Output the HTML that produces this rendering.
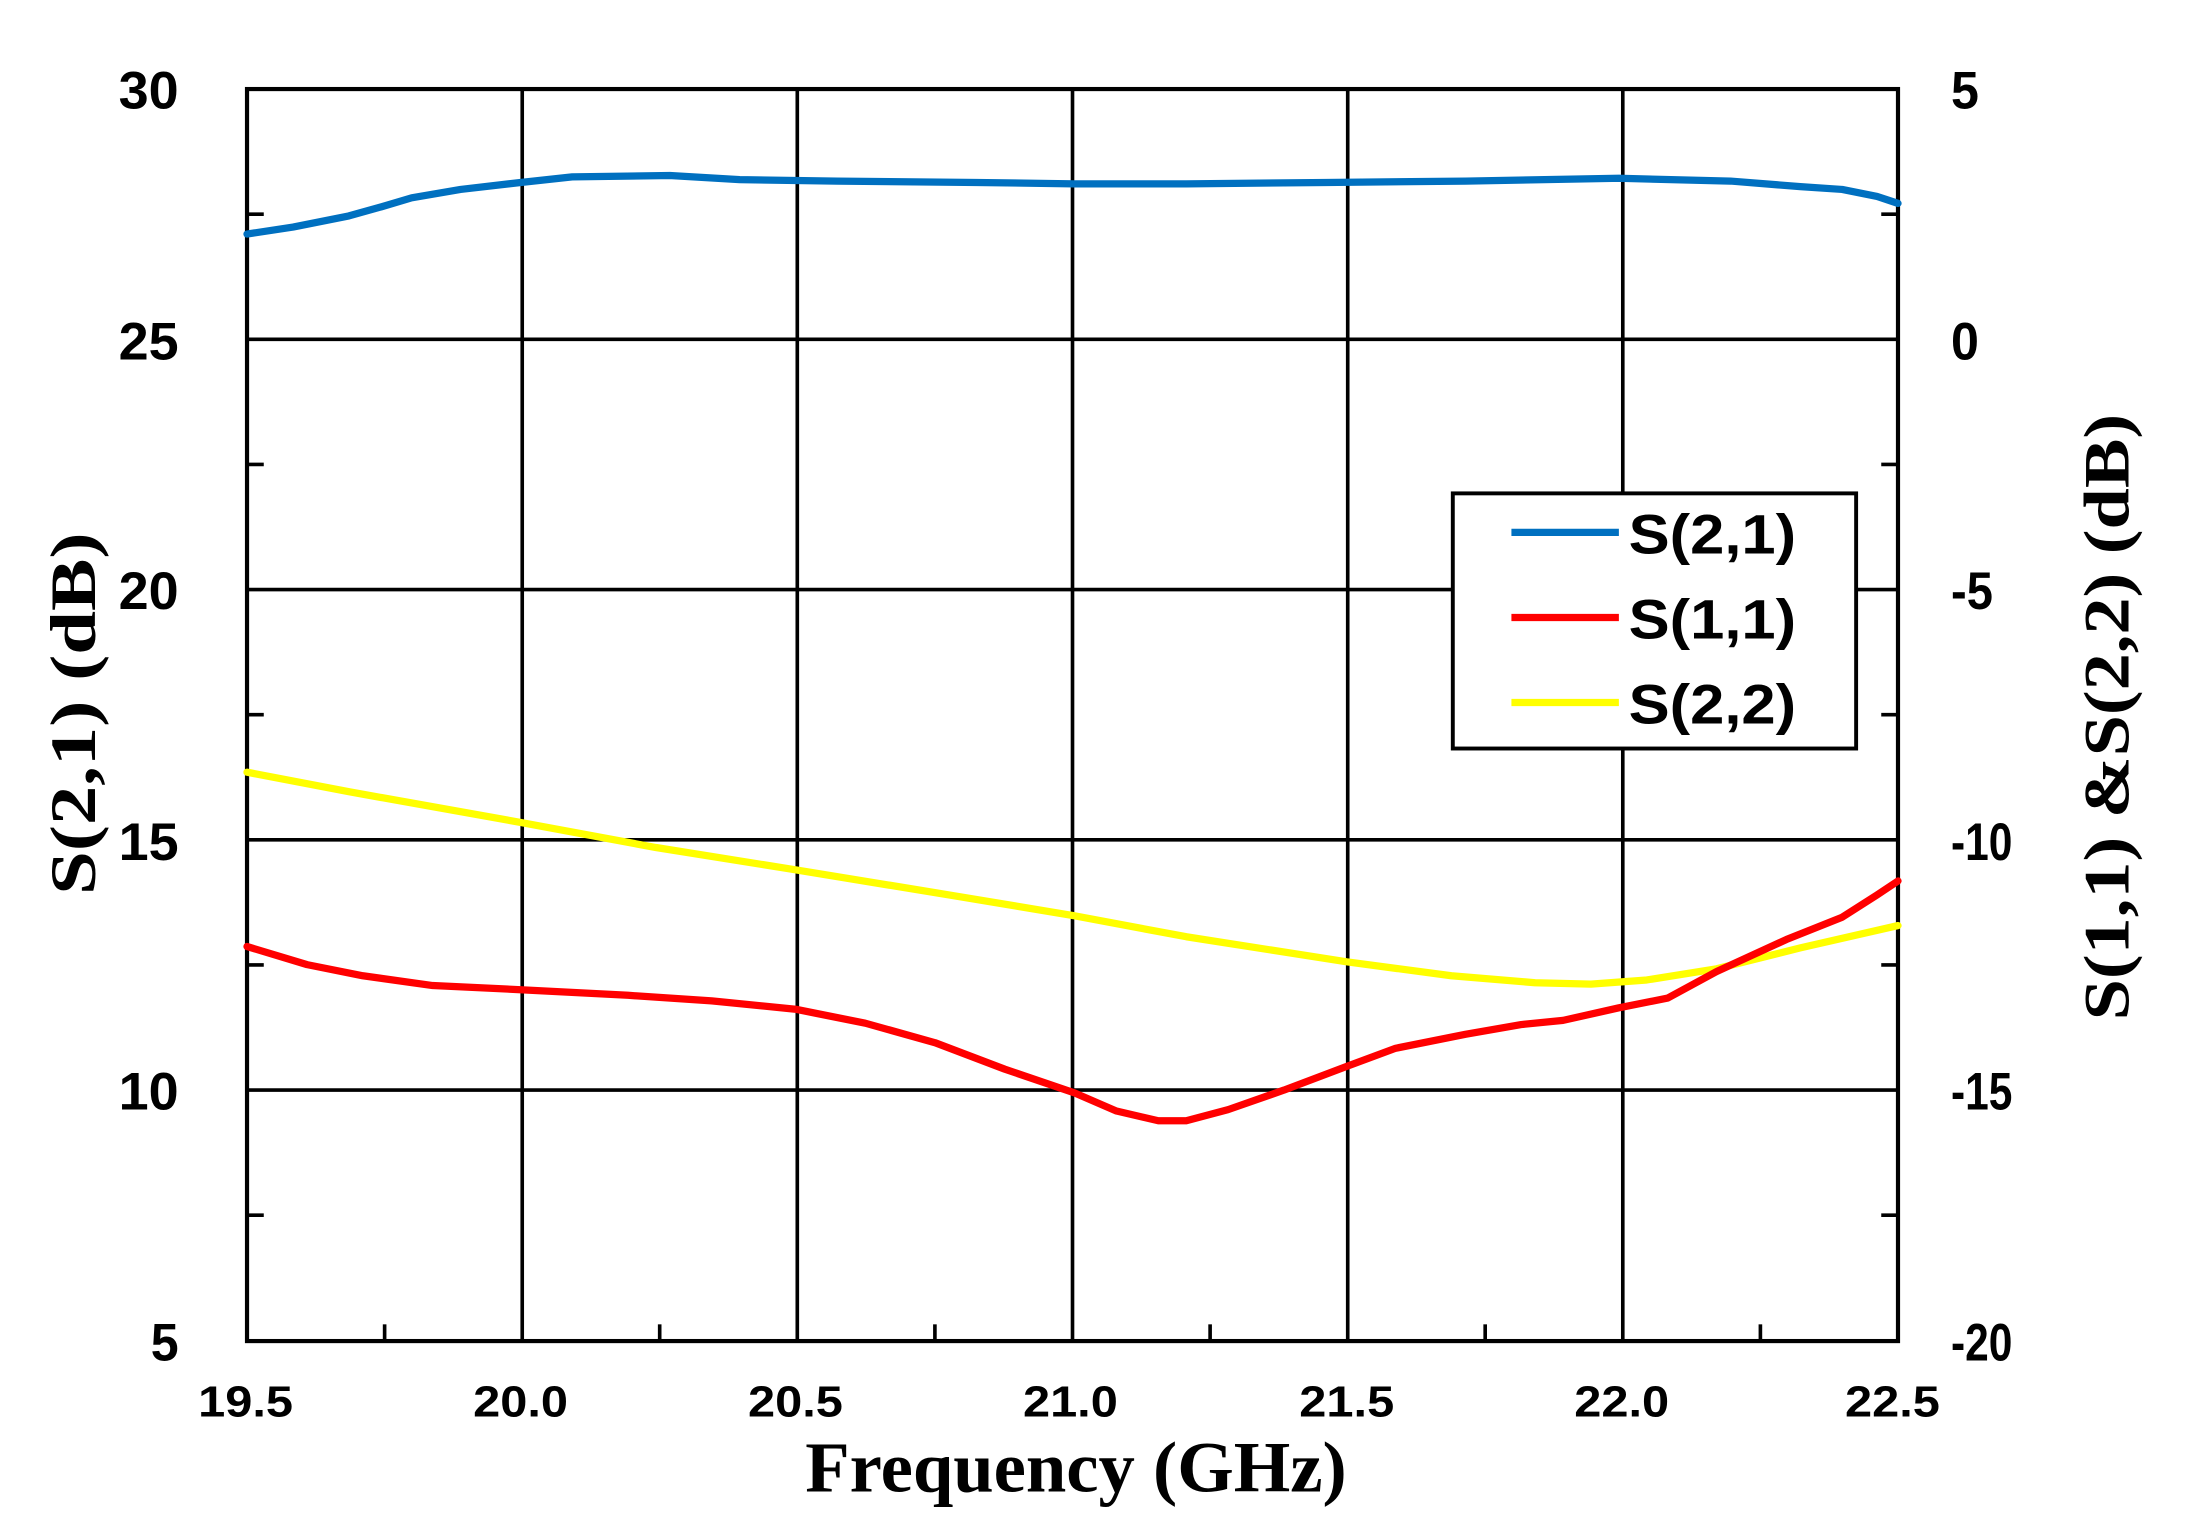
<!DOCTYPE html>
<html><head><meta charset="utf-8"><style>html,body{margin:0;padding:0;background:#fff}svg{display:block}</style></head>
<body>
<svg width="2188" height="1531" viewBox="0 -1.87 1567.8 1098.1" preserveAspectRatio="none" xmlns="http://www.w3.org/2000/svg">
<rect x="0" y="-2" width="1568" height="1100" fill="#fff"/>
<g stroke="#000" stroke-width="2.6">
<line x1="177" y1="241.5" x2="1360" y2="241.5"/>
<line x1="177" y1="421" x2="1360" y2="421"/>
<line x1="177" y1="600.5" x2="1360" y2="600.5"/>
<line x1="177" y1="780" x2="1360" y2="780"/>
<line x1="374.2" y1="62" x2="374.2" y2="960"/>
<line x1="571.3" y1="62" x2="571.3" y2="960"/>
<line x1="768.5" y1="62" x2="768.5" y2="960"/>
<line x1="965.7" y1="62" x2="965.7" y2="960"/>
<line x1="1162.8" y1="62" x2="1162.8" y2="960"/>
<line x1="177" y1="151.75" x2="189" y2="151.75"/><line x1="177" y1="331.25" x2="189" y2="331.25"/><line x1="177" y1="510.75" x2="189" y2="510.75"/><line x1="177" y1="690.25" x2="189" y2="690.25"/><line x1="177" y1="869.75" x2="189" y2="869.75"/>
<line x1="1348" y1="151.75" x2="1360" y2="151.75"/><line x1="1348" y1="331.25" x2="1360" y2="331.25"/><line x1="1348" y1="510.75" x2="1360" y2="510.75"/><line x1="1348" y1="690.25" x2="1360" y2="690.25"/><line x1="1348" y1="869.75" x2="1360" y2="869.75"/>
<line x1="275.6" y1="948" x2="275.6" y2="960"/><line x1="472.7" y1="948" x2="472.7" y2="960"/><line x1="669.9" y1="948" x2="669.9" y2="960"/><line x1="867.1" y1="948" x2="867.1" y2="960"/><line x1="1064.2" y1="948" x2="1064.2" y2="960"/><line x1="1261.4" y1="948" x2="1261.4" y2="960"/>
</g>
<rect x="177" y="62" width="1183" height="898" fill="none" stroke="#000" stroke-width="3"/>
<g fill="none" stroke-width="5.2" stroke-linejoin="round" stroke-linecap="round">
<polyline stroke="#0070c0" points="177,166 210,161 250,153 275,146 295,140 330,134 373,129 410,125 480,124 530,127 600,128 700,129 770,130 850,130 950,129 1050,128 1160,126 1240,128 1290,132 1320,134 1345,139 1360,144"/>
<polyline stroke="#ffff00" points="177,552 250,566 373,588 470,606 570,622 680,640 770,655 850,670 965,688 1040,698 1100,703 1140,704 1180,701 1230,693 1290,678 1360,662"/>
<polyline stroke="#ff0000" points="177,677 220,690 260,698 310,705 373,708 450,712 510,716 570,722 620,732 670,746 720,765 770,782 800,795 830,802 850,802 880,794 920,780 965,763 1000,750 1050,740 1090,733 1120,730 1160,721 1195,714 1230,695 1280,672 1320,656 1345,640 1360,630"/>
</g>
<rect x="1041" y="352" width="289" height="183" fill="#fff" stroke="#000" stroke-width="2.8"/>
<g stroke-width="5.2"><line x1="1083" y1="380" x2="1160" y2="380" stroke="#0070c0"/><line x1="1083" y1="441" x2="1160" y2="441" stroke="#ff0000"/><line x1="1083" y1="502" x2="1160" y2="502" stroke="#ffff00"/></g>
<g font-family="Liberation Sans, sans-serif" font-weight="bold" font-size="40" fill="#000" lengthAdjust="spacingAndGlyphs">
<text x="1167" y="395" textLength="120" lengthAdjust="spacingAndGlyphs">S(2,1)</text><text x="1167" y="456" textLength="120" lengthAdjust="spacingAndGlyphs">S(1,1)</text><text x="1167" y="517" textLength="120" lengthAdjust="spacingAndGlyphs">S(2,2)</text>
</g>
<g font-family="Liberation Sans, sans-serif" font-weight="bold" font-size="38" fill="#000">
<text x="85" y="76" textLength="43" lengthAdjust="spacingAndGlyphs">30</text>
<text x="85" y="256" textLength="43" lengthAdjust="spacingAndGlyphs">25</text>
<text x="85" y="435" textLength="43" lengthAdjust="spacingAndGlyphs">20</text>
<text x="85" y="615" textLength="43" lengthAdjust="spacingAndGlyphs">15</text>
<text x="85" y="794" textLength="43" lengthAdjust="spacingAndGlyphs">10</text>
<text x="108" y="974" textLength="20" lengthAdjust="spacingAndGlyphs">5</text>
<text x="1398" y="76" textLength="20" lengthAdjust="spacingAndGlyphs">5</text>
<text x="1398" y="256" textLength="20" lengthAdjust="spacingAndGlyphs">0</text>
<text x="1398" y="435" textLength="30" lengthAdjust="spacingAndGlyphs">-5</text>
<text x="1398" y="615" textLength="44" lengthAdjust="spacingAndGlyphs">-10</text>
<text x="1398" y="794" textLength="44" lengthAdjust="spacingAndGlyphs">-15</text>
<text x="1398" y="974" textLength="44" lengthAdjust="spacingAndGlyphs">-20</text>
</g>
<g font-family="Liberation Sans, sans-serif" font-weight="bold" font-size="31" fill="#000">
<text x="142" y="1014" textLength="68" lengthAdjust="spacingAndGlyphs">19.5</text>
<text x="339" y="1014" textLength="68" lengthAdjust="spacingAndGlyphs">20.0</text>
<text x="536" y="1014" textLength="68" lengthAdjust="spacingAndGlyphs">20.5</text>
<text x="733" y="1014" textLength="68" lengthAdjust="spacingAndGlyphs">21.0</text>
<text x="931" y="1014" textLength="68" lengthAdjust="spacingAndGlyphs">21.5</text>
<text x="1128" y="1014" textLength="68" lengthAdjust="spacingAndGlyphs">22.0</text>
<text x="1322" y="1014" textLength="68" lengthAdjust="spacingAndGlyphs">22.5</text>
</g>
<g font-family="Liberation Serif, serif" font-weight="bold" fill="#000">
<text x="577" y="1068" font-size="52" textLength="388" lengthAdjust="spacingAndGlyphs">Frequency (GHz)</text>
<text transform="translate(68,640) rotate(-90)" font-size="46" textLength="260" lengthAdjust="spacingAndGlyphs">S(2,1) (dB)</text>
<text transform="translate(1525,730) rotate(-90)" font-size="46" textLength="435" lengthAdjust="spacingAndGlyphs">S(1,1) &amp;S(2,2) (dB)</text>
</g>
</svg>
</body></html>
